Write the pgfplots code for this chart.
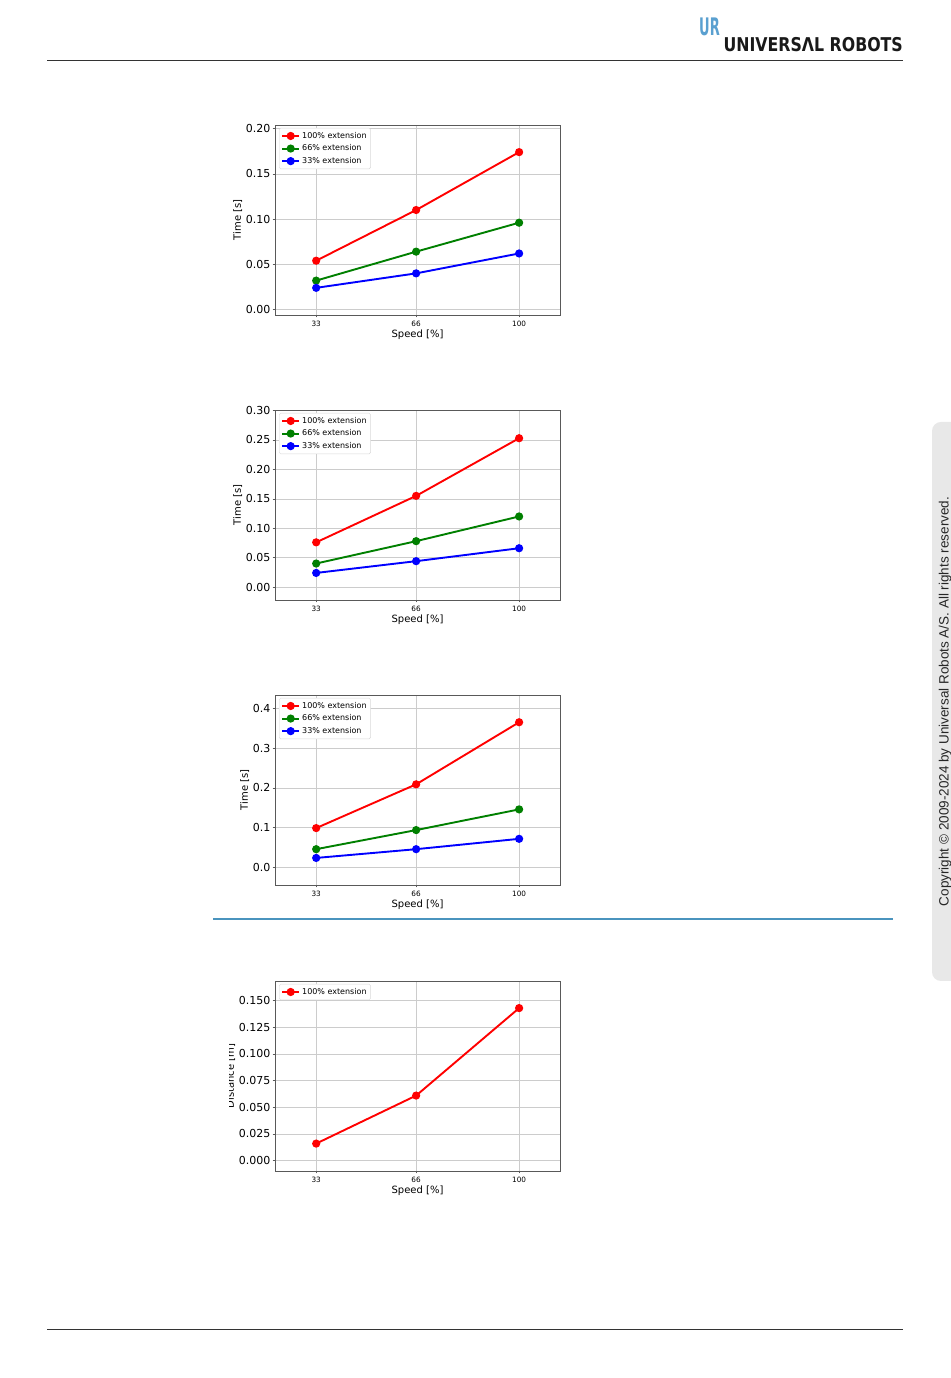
\documentclass[border=0pt]{standalone}
\usepackage{fontspec}
\setmainfont{DejaVu Sans}
\newfontfamily\arialfont{Liberation Sans}
\usepackage{pgfplots}
\pgfplotsset{compat=1.18}
\usepackage{graphicx}

\definecolor{mplgreen}{HTML}{008000}
\definecolor{mplred}{HTML}{FF0000}
\definecolor{mplblue}{HTML}{0000FF}
\definecolor{urblue}{HTML}{5AA0D0}
\definecolor{sepblue}{HTML}{4A94BE}

\pgfplotsset{
 urplot/.style={
  scale only axis, width=285pt, height=190pt, anchor=south west,
  xmin=19.4, xmax=113.5, xtick={33,66,100},
  xtick pos=bottom, ytick pos=left,
  grid=major, major grid style={black!20, line width=0.6pt},
  axis line style={black!65, line width=0.7pt},
  tick align=outside, major tick length=2.5pt, tick style={black!65, line width=0.6pt},
  /pgf/number format/assume math mode=true,
  xticklabel style={font=\fontsize{7.3}{8}\selectfont},
  yticklabel style={font=\fontsize{11}{12}\selectfont, /pgf/number format/fixed, /pgf/number format/fixed zerofill, xshift=1.5pt},
  xlabel={Speed [\%]}, label style={font=\fontsize{10}{12}\selectfont},
  xlabel shift=-4pt, ylabel shift=-3pt,
  legend style={at={(0,1)}, anchor=north west, xshift=4pt, yshift=-3pt,
    font=\fontsize{8}{9}\selectfont, draw=black!15, fill=white,
    rounded corners=1.5pt, inner sep=2pt, row sep=1pt},
  legend cell align=left,
  every axis plot/.append style={line width=1.9pt, mark=*, mark size=3.1pt},
 }
}

\begin{document}
\begin{tikzpicture}
\path[use as bounding box] (0,0) rectangle (950pt,1378pt);
\fill[white] (0,0) rectangle (950pt,1378pt);

% header
\node[anchor=north west, inner sep=0, text=urblue] at (699pt,1360pt) {\scalebox{0.62}[1.15]{\fontsize{21}{21}\selectfont\bfseries UR}};
\node[anchor=base east, inner sep=0, text=black!90] at (903pt,1326pt) {\scalebox{0.83}[1]{\fontsize{19}{20}\selectfont\bfseries UNIVERSΛL ROBOTS}};
\draw[black!80, line width=0.8pt] (47pt,1318pt) -- (903pt,1318pt);
% footer
\draw[black!80, line width=0.8pt] (47pt,49pt) -- (903pt,49pt);
% separator
\draw[sepblue, line width=1.1pt] (213pt,459pt) -- (893pt,459pt);
% side tab
\fill[black!9, rounded corners=9pt] (932pt,397pt) rectangle (975pt,956pt);
\node[rotate=90, text=black!85, inner sep=0] at (945pt,676.5pt) {\arialfont\fontsize{13.5}{14}\selectfont Copyright © 2009-2024 by Universal Robots A/S. All rights reserved.};

% chart 1
\begin{axis}[urplot, at={(275pt,1063pt)}, ymin=-0.006, ymax=0.204,
  ytick={0,0.05,0.1,0.15,0.2}, yticklabel style={/pgf/number format/precision=2},
  ylabel={Time [s]}]
\addplot[mplred] coordinates {(33,0.054) (66,0.110) (100,0.174)};
\addlegendentry{100\% extension}
\addplot[mplgreen] coordinates {(33,0.032) (66,0.064) (100,0.096)};
\addlegendentry{66\% extension}
\addplot[mplblue] coordinates {(33,0.024) (66,0.040) (100,0.062)};
\addlegendentry{33\% extension}
\end{axis}

% chart 2
\begin{axis}[urplot, at={(275pt,778pt)}, ymin=-0.022, ymax=0.301,
  ytick={0,0.05,0.1,0.15,0.2,0.25,0.3}, yticklabel style={/pgf/number format/precision=2},
  ylabel={Time [s]}]
\addplot[mplred] coordinates {(33,0.076) (66,0.155) (100,0.253)};
\addlegendentry{100\% extension}
\addplot[mplgreen] coordinates {(33,0.040) (66,0.078) (100,0.120)};
\addlegendentry{66\% extension}
\addplot[mplblue] coordinates {(33,0.024) (66,0.044) (100,0.066)};
\addlegendentry{33\% extension}
\end{axis}

% chart 3
\begin{axis}[urplot, at={(275pt,493pt)}, ymin=-0.044, ymax=0.4335,
  ytick={0,0.1,0.2,0.3,0.4}, yticklabel style={/pgf/number format/precision=1},
  ylabel={Time [s]}]
\addplot[mplred] coordinates {(33,0.099) (66,0.209) (100,0.365)};
\addlegendentry{100\% extension}
\addplot[mplgreen] coordinates {(33,0.046) (66,0.094) (100,0.146)};
\addlegendentry{66\% extension}
\addplot[mplblue] coordinates {(33,0.024) (66,0.046) (100,0.072)};
\addlegendentry{33\% extension}
\end{axis}

% chart 4
\begin{axis}[urplot, at={(275pt,207pt)}, ymin=-0.0097, ymax=0.1684,
  ytick={0,0.025,0.05,0.075,0.1,0.125,0.15}, yticklabel style={/pgf/number format/precision=3},
  ylabel={Distance [m]}]
\addplot[mplred] coordinates {(33,0.016) (66,0.061) (100,0.143)};
\addlegendentry{100\% extension}
\end{axis}
\fill[white] (200pt,230pt) rectangle (228.5pt,360pt);
\end{tikzpicture}
\end{document}
